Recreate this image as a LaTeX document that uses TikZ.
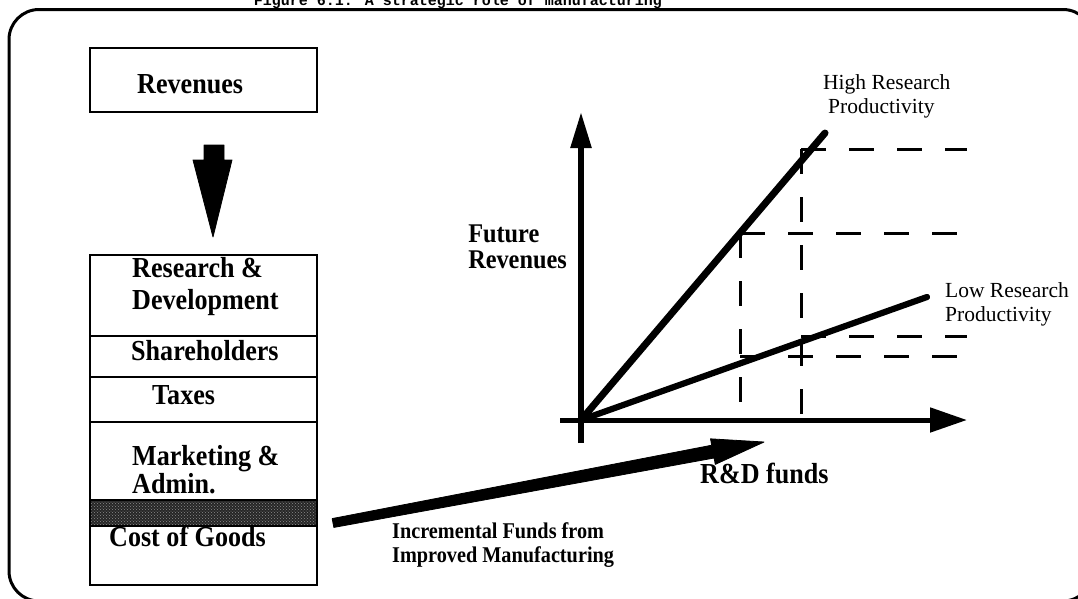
\documentclass[tikz,border=0pt]{standalone}
\usepackage{fontspec}
\setmainfont{Liberation Serif}[FakeStretch=0.9]
\newfontfamily\plainfont{Liberation Serif}
\newfontfamily\titlefont{Liberation Mono}
\usetikzlibrary{arrows.meta,calc,patterns}

\begin{document}
\begin{tikzpicture}[x=1pt,y=-1pt,
  frame/.style={draw,line width=3pt,rounded corners=30pt},
  boxline/.style={draw,line width=2.6pt},
  divider/.style={line width=2.2pt},
  lbl/.style={inner sep=0pt,anchor=base west,font=\fontsize{29}{30}\selectfont\bfseries},
  small/.style={inner sep=0pt,anchor=base west,font=\fontsize{22.5}{24}\selectfont\bfseries},
  note/.style={inner sep=0pt,anchor=base west,font=\plainfont\fontsize{21.5}{23}\selectfont},
  axis/.style={line cap=butt},
  curve/.style={line width=7pt,line cap=round},
  guide/.style={line width=3pt,dash pattern=on 25pt off 23pt},
  block/.style={fill=black,draw=black,line width=0.8pt,line join=round}
]
\useasboundingbox (0,0) rectangle (1078,598);
\clip (0,0) rectangle (1078,598);

% caption above the frame
\node[inner sep=0pt,anchor=base,font=\titlefont\fontsize{15}{16}\selectfont\bfseries]
  (caption) at (458,5) {Figure 6.1: A strategic role of manufacturing};

% outer frame
\path[frame] (9,9.5) rectangle (1093,601);

% revenues box
\draw[boxline] (90,48) rectangle (317,112);
\node[lbl] (rev) at (137,93) {Revenues};

% block arrow down to the breakdown
\coordinate (dnTop) at (214,145);
\coordinate (dnTip) at (213,237);
\path[block] ($(dnTop)+(-10,0)$) -- ($(dnTop)+(10,0)$) -- ($(dnTop)+(10,15)$)
  -- ($(dnTop)+(18,15)$) -- (dnTip) -- ($(dnTop)+(-21,15)$) -- ($(dnTop)+(-10,15)$) -- cycle;

% breakdown of revenues, with the shaded band freed by better manufacturing
\fill[black!85] (90,500) rectangle (317,526);
\fill[pattern=crosshatch dots,pattern color=black!45] (90,500) rectangle (317,526);
\draw[divider] (90,336) -- (317,336);
\draw[divider] (90,377) -- (317,377);
\draw[divider,line width=2.8pt] (90,422) -- (317,422);
\draw[divider] (90,500) -- (317,500);
\draw[divider] (90,526) -- (317,526);
\draw[boxline] (90,255) rectangle (317,585);

\node[lbl] (rd1) at (132,277) {Research \&};
\node[lbl] (rd2) at (132,309) {Development};
\node[lbl] (sh) at (131,360) {Shareholders};
\node[lbl] (tax) at (152,404) {Taxes};
\node[lbl] (mk1) at (132,465) {Marketing \&};
\node[lbl] (mk2) at (132,493) {Admin.};
\node[lbl] (cog) at (109,546) {Cost of Goods};

% axes of the chart
\coordinate (O) at (581,420);
\coordinate (yTop) at (581,112);
\coordinate (yBot) at (581,443);
\coordinate (xLeft) at (560,420);
\coordinate (xTip) at (967,420);
\draw[axis,line width=5.5pt,-{Triangle[length=36pt,width=20pt]}] (yBot) -- (yTop);
\draw[axis,line width=5pt,-{Triangle[length=37pt,width=24pt]}] (xLeft) -- (xTip);

\node[inner sep=0pt,anchor=base east,align=left,font=\fontsize{27}{26}\selectfont\bfseries]
  (fr) at (567,268) {Future\\Revenues};
\node[lbl] (rdf) at (700,483) {R\&D funds};

% read-off guides
\coordinate (a1) at (740,233);
\coordinate (a2) at (740,356);
\coordinate (a3) at (740,403);
\coordinate (b1) at (801,149);
\coordinate (b2) at (801,336);
\coordinate (b3) at (801,420);
\draw[guide] (a1) -- (a3);
\draw[guide] (b1) -- (b3);
\draw[guide] (b1) -- (967,149);
\draw[guide] (a1) -- (957,233);
\draw[guide] (b2) -- (967,336);
\draw[guide] (a2) -- (957,356);

% productivity lines
\coordinate (hiEnd) at (825,133);
\coordinate (loEnd) at (927,297);
\draw[curve] (O) -- (hiEnd);
\draw[curve,line width=6.2pt] (O) -- (loEnd);

\node[note] (hi1) at (823,89) {High Research};
\node[note] (hi2) at (828,113) {Productivity};
\node[note] (lo1) at (945,297) {Low Research};
\node[note] (lo2) at (945,321) {Productivity};

% incremental funds arrow
\coordinate (incS) at (333,523);
\coordinate (incT) at (764,442);
\coordinate (incB) at ($(incT)!52pt!(incS)$);
\path[block] ($(incS)!4.5pt!90:(incT)$) -- ($(incB)!6.5pt!90:(incT)$)
  -- ($(incB)!13pt!90:(incT)$) -- (incT) -- ($(incB)!13pt!-90:(incT)$)
  -- ($(incB)!6.5pt!-90:(incT)$) -- ($(incS)!4.5pt!-90:(incT)$) -- cycle;

\node[small] (inc1) at (392,538) {Incremental Funds from};
\node[small] (inc2) at (392,562) {Improved Manufacturing};
\end{tikzpicture}
\end{document}
